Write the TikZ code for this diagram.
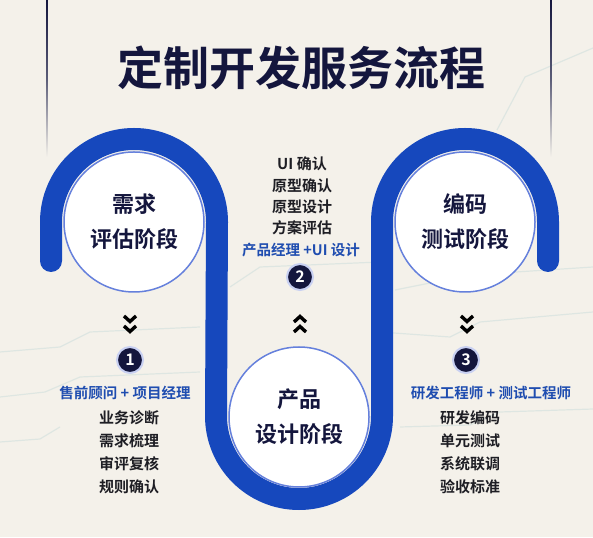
\documentclass[tikz,border=0pt]{standalone}
\usepackage{fontspec}
\setmainfont{Noto Sans CJK SC}[BoldFont={Noto Sans CJK SC Bold}]
\definecolor{bg}{HTML}{F4F1EA}
\definecolor{bandblue}{HTML}{1648BD}
\definecolor{ringblue}{HTML}{6580DC}
\definecolor{navy}{HTML}{14163D}
\definecolor{labelblue}{HTML}{1F4DB0}
\definecolor{ink}{HTML}{1E1E24}
\definecolor{trace}{HTML}{BFD6D6}
\definecolor{halo}{HTML}{C8D0F2}
\tikzset{
  stage/.style={circle, fill=white, draw=ringblue, line width=1.5pt, minimum size=140pt,
    align=center, text=navy, font=\fontsize{22}{35}\selectfont\bfseries},
  badge/.style={circle, fill=navy, draw=halo, line width=2pt, minimum size=26pt, inner sep=0pt,
    text=white, font=\fontsize{16}{16}\selectfont\bfseries},
  role/.style={text=labelblue, font=\fontsize{14.5}{17}\selectfont\bfseries, inner sep=0pt},
  tasks/.style={align=center, text=ink, inner sep=0pt},
  chev/.style={line width=3.4pt, black, line join=miter},
  band/.style={bandblue, line width=22pt, line cap=round},
  circuit/.style={trace, line width=1.2pt, opacity=0.4}
}
\begin{document}
\begin{tikzpicture}[x=1pt,y=1pt]
\useasboundingbox (0,0) rectangle (593,537);
\fill[bg] (0,0) rectangle (593,537);
% faint circuit traces in the background
\draw[circuit] (497,407) -- (525,460) -- (593,489);
\draw[circuit] (395,247) -- (470,262) -- (593,270);
\draw[circuit] (0,185) -- (60,190) -- (90,205) -- (200,210);
\draw[circuit] (0,140) -- (45,145) -- (80,160) -- (200,165);
\draw[circuit] (380,205) -- (450,200) -- (480,215) -- (593,225);
\draw[circuit] (400,110) -- (470,112) -- (500,125) -- (593,128);
\draw[circuit] (0,95) -- (40,98) -- (60,110);
\draw[circuit] (230,250) -- (260,270) -- (380,275);
% frame lines at the top
\shade[top color=navy, bottom color=bg, middle color=navy!70] (46.2,380) rectangle (47.8,537);
\shade[top color=navy, bottom color=bg, middle color=navy!70] (550.2,380) rectangle (551.8,537);
% title
\node[text=navy, font=\fontsize{46}{50}\selectfont\bfseries] (title) at (301,469) {定制开发服务流程};
% the S-shaped band
\draw[band] (51,276) -- (51,315) arc[start angle=180, end angle=0, radius=83]
  -- (216,121) arc[start angle=180, end angle=360, radius=83]
  -- (382,315) arc[start angle=180, end angle=0, radius=83] -- (548,276);
% stage circles
\node[stage] (s1) at (134,315) {需求\\评估阶段};
\node[stage] (s2) at (299,120) {产品\\设计阶段};
\node[stage] (s3) at (465,315) {编码\\测试阶段};
% chevrons
\draw[chev] (124,221) -- (130,215.5) -- (136,221);
\draw[chev] (124,211) -- (130,205.5) -- (136,211);
\draw[chev] (461,221) -- (467,215.5) -- (473,221);
\draw[chev] (461,211) -- (467,205.5) -- (473,211);
\draw[chev] (294,215) -- (300,220.5) -- (306,215);
\draw[chev] (294,205) -- (300,210.5) -- (306,205);
% badges
\node[badge] (b1) at (130,177) {1};
\node[badge] (b2) at (300,260) {2};
\node[badge] (b3) at (466,177) {3};
% roles
\node[role] (r1) at (125,144) {售前顾问 + 项目经理};
\node[role] (r2) at (301,287) {产品经理 +UI 设计};
\node[role] (r3) at (491,144) {研发工程师 + 测试工程师};
% task lists
\node[tasks, font=\fontsize{15}{23}\selectfont\bfseries] (t1) at (129,85) {业务诊断\\需求梳理\\审评复核\\规则确认};
\node[tasks, font=\fontsize{15}{21.3}\selectfont\bfseries] (t2) at (302,341) {UI 确认\\原型确认\\原型设计\\方案评估};
\node[tasks, font=\fontsize{15}{23}\selectfont\bfseries] (t3) at (470,85) {研发编码\\单元测试\\系统联调\\验收标准};
\end{tikzpicture}
\end{document}
